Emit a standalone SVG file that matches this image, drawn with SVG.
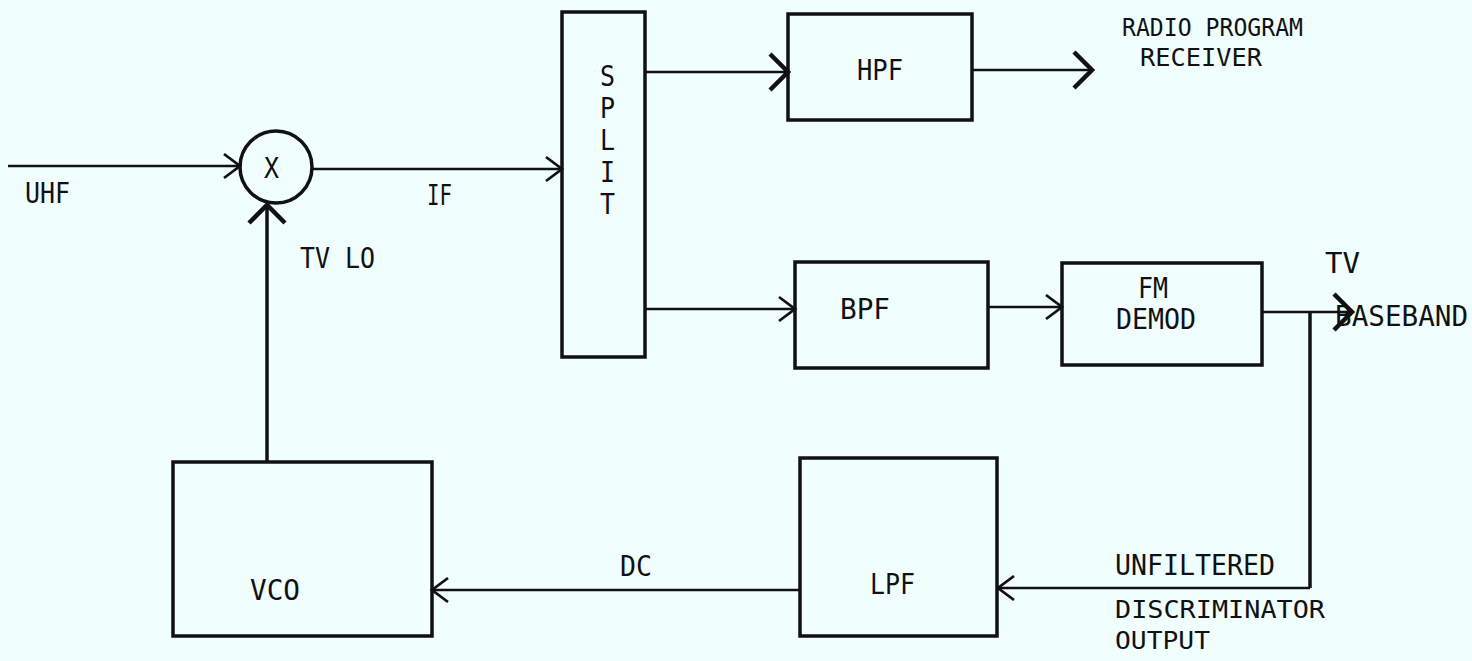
<svg xmlns="http://www.w3.org/2000/svg" width="1472" height="661" viewBox="0 0 1472 661">
<defs>
<style>
.bg{fill:#f0fefe}
.box{fill:none;stroke:#111;stroke-width:3.5}
.ln{fill:none;stroke:#111;stroke-width:2.5}
.lnb{fill:none;stroke:#111;stroke-width:3.5}
text{font-family:"DejaVu Sans Mono","Liberation Mono",monospace;font-size:28px;fill:#111}
.tight{font-size:25px}
</style>
<marker id="sm" viewBox="-20 -16 24 32" markerWidth="24" markerHeight="32" refX="0" refY="0" markerUnits="userSpaceOnUse" orient="auto" overflow="visible">
<path d="M-16,-12 L0,0 L-16,12" fill="none" stroke="#111" stroke-width="2.8"/>
</marker>
<marker id="bg" viewBox="-24 -22 28 44" markerWidth="28" markerHeight="44" refX="0" refY="0" markerUnits="userSpaceOnUse" orient="auto" overflow="visible">
<path d="M-18,-18 L0,0 L-18,18" fill="none" stroke="#111" stroke-width="4.5"/>
</marker>
</defs>
<rect class="bg" x="0" y="0" width="1472" height="661"/>

<g id="connectors">
<path class="ln" d="M8,166 H240" marker-end="url(#sm)"/>
<path class="ln" d="M312,169 H562" marker-end="url(#sm)"/>
<path class="ln" d="M645,72 H788" marker-end="url(#bg)"/>
<path class="ln" d="M645,309 H795" marker-end="url(#sm)"/>
<path class="ln" d="M972,70 H1092" marker-end="url(#bg)"/>
<path class="ln" d="M988,307 H1062" marker-end="url(#sm)"/>
<path class="ln" d="M1262,312 H1352" marker-end="url(#bg)"/>
<path class="lnb" d="M1310,312 V588"/>
<path class="ln" d="M1310,588 H998" marker-end="url(#sm)"/>
<path class="ln" d="M800,590 H432" marker-end="url(#sm)"/>
<path class="lnb" d="M267,462 V205" marker-end="url(#bg)"/>
</g>

<g id="mixer">
<circle class="box" cx="276" cy="167" r="36"/>
<text x="264" y="178" textLength="15" lengthAdjust="spacingAndGlyphs">X</text>
</g>
<g id="split">
<rect class="box" x="562" y="12" width="83" height="345"/>
<text x="600" y="86" textLength="15" lengthAdjust="spacingAndGlyphs">S</text>
<text x="600" y="118" textLength="15" lengthAdjust="spacingAndGlyphs">P</text>
<text x="600" y="150" textLength="15" lengthAdjust="spacingAndGlyphs">L</text>
<text x="600" y="182" textLength="15" lengthAdjust="spacingAndGlyphs">I</text>
<text x="600" y="214" textLength="15" lengthAdjust="spacingAndGlyphs">T</text>
</g>
<g id="hpf">
<rect class="box" x="788" y="14" width="184" height="106"/>
<text x="857" y="80" textLength="46" lengthAdjust="spacingAndGlyphs">HPF</text>
</g>
<g id="bpf">
<rect class="box" x="795" y="262" width="193" height="106"/>
<text x="840" y="319" textLength="50" lengthAdjust="spacingAndGlyphs">BPF</text>
</g>
<g id="fmdemod">
<rect class="box" x="1062" y="263" width="200" height="102"/>
<text x="1138" y="298" textLength="30" lengthAdjust="spacingAndGlyphs">FM</text>
<text x="1116" y="329" textLength="80" lengthAdjust="spacingAndGlyphs">DEMOD</text>
</g>
<g id="lpf">
<rect class="box" x="800" y="458" width="197" height="178"/>
<text x="870" y="594" textLength="45" lengthAdjust="spacingAndGlyphs">LPF</text>
</g>
<g id="vco">
<rect class="box" x="173" y="462" width="259" height="174"/>
<text x="250" y="600" textLength="50" lengthAdjust="spacingAndGlyphs">VCO</text>
</g>

<g id="labels">
<text x="25" y="203" textLength="45" lengthAdjust="spacingAndGlyphs">UHF</text>
<text x="427" y="205" textLength="25" lengthAdjust="spacingAndGlyphs">IF</text>
<text class="tight" x="1122" y="36" textLength="181" lengthAdjust="spacingAndGlyphs">RADIO PROGRAM</text>
<text class="tight" x="1140" y="66" textLength="122" lengthAdjust="spacingAndGlyphs">RECEIVER</text>
<text x="1325" y="273" textLength="35" lengthAdjust="spacingAndGlyphs">TV</text>
<text x="1335" y="326" textLength="133" lengthAdjust="spacingAndGlyphs">BASEBAND</text>
<text x="300" y="268" textLength="75" lengthAdjust="spacingAndGlyphs">TV LO</text>
<text x="620" y="576" textLength="32" lengthAdjust="spacingAndGlyphs">DC</text>
<text x="1115" y="575" textLength="160" lengthAdjust="spacingAndGlyphs">UNFILTERED</text>
<text class="tight" x="1115" y="618" textLength="210" lengthAdjust="spacingAndGlyphs">DISCRIMINATOR</text>
<text class="tight" x="1115" y="649" textLength="95" lengthAdjust="spacingAndGlyphs">OUTPUT</text>
</g>
</svg>
